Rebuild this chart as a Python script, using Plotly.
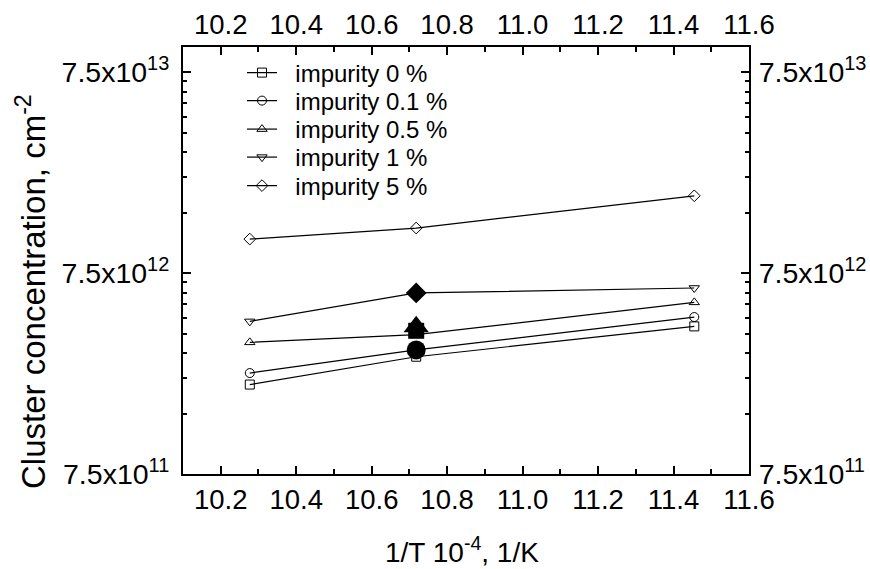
import plotly.graph_objects as go

# ---- data ----
inv_T = [10.277, 10.718, 11.455]
imp_0 = [2.09e12, 2.875e12, 4.07e12]
imp_01 = [2.385e12, 3.11e12, 4.53e12]
imp_05 = [3.39e12, 3.70e12, 5.36e12]
imp_1 = [4.31e12, 5.97e12, 6.32e12]
imp_5 = [1.107e13, 1.256e13, 1.818e13]

series_names = ["impurity 0 %", "impurity 0.1 %", "impurity 0.5 %", "impurity 1 %", "impurity 5 %"]
series_values = [imp_0, imp_01, imp_05, imp_1, imp_5]
series_symbols = ["square-open", "circle-open", "triangle-up-open", "triangle-down-open", "diamond-open"]

# highlighted (filled) points at the middle temperature
hl_x = [10.718, 10.718, 10.718, 10.718]
hl_y = [4.05e12, 3.87e12, 3.11e12, 5.97e12]
hl_symbols = ["triangle-up", "square", "circle", "diamond"]
hl_sizes = [22, 16, 19, 16]

y_tickvals = [7.5e11, 7.5e12, 7.5e13]
y_ticktext = ["7.5x10<sup>11</sup>", "7.5x10<sup>12</sup>", "7.5x10<sup>13</sup>"]
y_minor = [k * 7.5e11 for k in range(2, 10)] + [k * 7.5e12 for k in range(2, 10)]

x_range = [10.1, 11.6]
y_range_log = [11.87506, 14.0]

FONT = "Liberation Sans, Arial, sans-serif"
NBSP = "\u00a0"

# plot area in pixels
FIG_W, FIG_H = 870, 569
S_TOP, S_BOTTOM, S_LEFT, S_RIGHT = 47, 474, 183, 749
PW, PH = S_RIGHT - S_LEFT, S_BOTTOM - S_TOP


def px(sx):
    return (sx - S_LEFT) / PW


def py(sy):
    return (S_BOTTOM - sy) / PH


legend_row_px = [73, 101, 129.5, 157.5, 186]

fig = go.Figure()
legend_ids = ["legend", "legend2", "legend3", "legend4", "legend5"]
for name, vals, sym, lid in zip(series_names, series_values, series_symbols, legend_ids):
    fig.add_trace(go.Scatter(
        x=inv_T, y=vals, name=NBSP * 2 + name, mode="lines+markers", legend=lid,
        line=dict(color="black", width=1.2),
        marker=dict(symbol=sym, size=9, color="black", opacity=1,
                    line=dict(width=1, color="black")),
    ))

fig.add_trace(go.Scatter(
    x=hl_x, y=hl_y, mode="markers", showlegend=False, hoverinfo="skip",
    marker=dict(symbol=hl_symbols, size=hl_sizes, color="black", opacity=1,
                line=dict(width=0, color="black")),
))

# dummy trace for the mirrored (top/right) axes
fig.add_trace(go.Scatter(x=[x_range[0]], y=[y_tickvals[0]], xaxis="x2", yaxis="y2",
                         mode="markers", marker=dict(opacity=0), showlegend=False, hoverinfo="skip"))

axis_common = dict(showline=True, linecolor="black", linewidth=2, ticks="inside",
                   tickcolor="black", tickwidth=1.5, showgrid=False, zeroline=False,
                   automargin=False)

xcommon = dict(axis_common, range=x_range, tickmode="linear", tick0=10.2, dtick=0.2,
               tickformat=".1f", ticklen=8,
               tickfont=dict(family=FONT, size=27.5, color="black"),
               minor=dict(ticks="inside", tickmode="linear", tick0=10.1, dtick=0.1,
                          ticklen=5, tickwidth=1.5, tickcolor="black", showgrid=False))
ycommon = dict(axis_common, type="log", range=y_range_log, tickmode="array",
               tickvals=y_tickvals, ticktext=y_ticktext, ticklen=8,
               tickfont=dict(family=FONT, size=28.5, color="black"),
               minor=dict(ticks="inside", tickmode="array", tickvals=y_minor,
                          ticklen=4, tickwidth=1.5, tickcolor="black", showgrid=False))

layout_legends = {}
for lid, ypx in zip(legend_ids, legend_row_px):
    layout_legends[lid] = dict(
        x=px(242), y=py(ypx),
        xanchor="left", yanchor="middle",
        bgcolor="rgba(0,0,0,0)", borderwidth=0,
        font=dict(family=FONT, size=24, color="black"),
    )

fig.update_layout(
    template="none",
    width=FIG_W, height=FIG_H,
    margin=dict(l=S_LEFT, r=FIG_W - S_RIGHT, t=S_TOP, b=FIG_H - S_BOTTOM, pad=0),
    paper_bgcolor="white", plot_bgcolor="white",
    font=dict(family=FONT, color="black"),
    xaxis=dict(xcommon, ticklabelstandoff=0),
    xaxis2=dict(xcommon, overlaying="x", side="top", matches="x", ticklabelstandoff=0),
    yaxis=dict(ycommon, ticklabelstandoff=6),
    yaxis2=dict(ycommon, overlaying="y", side="right", matches="y", ticklabelstandoff=2),
    showlegend=True,
    **layout_legends,
)

fig.add_annotation(
    text="Cluster concentration, cm<sup>-2</sup>", textangle=-90,
    xref="paper", yref="paper", x=px(31), y=py(292),
    xanchor="center", yanchor="middle", showarrow=False,
    font=dict(family=FONT, size=33, color="black"),
)
fig.add_annotation(
    text="1/T 10<sup>-4</sup>, 1/K",
    xref="paper", yref="paper", x=px(462), y=py(550),
    xanchor="center", yanchor="middle", showarrow=False,
    font=dict(family=FONT, size=28, color="black"),
)

fig.write_html(
    "out.html",
    config={"displayModeBar": False},
    post_script="document.body.style.margin='0';document.body.style.overflow='hidden';",
)
